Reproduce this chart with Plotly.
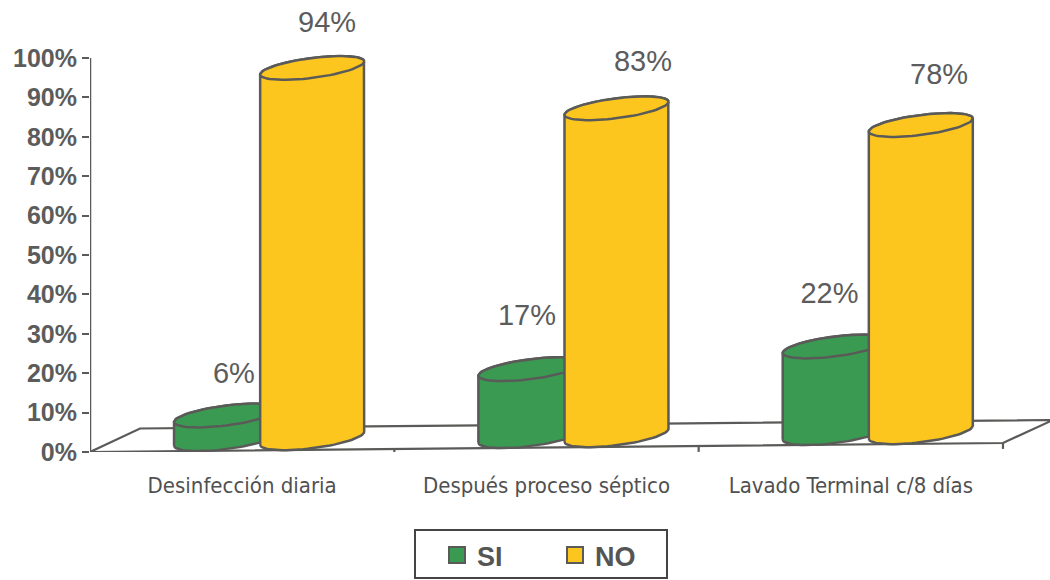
import numpy as np
import plotly.graph_objects as go

categories = ["Desinfección diaria", "Después proceso séptico", "Lavado Terminal c/8 días"]
si_values = [6, 17, 22]
no_values = [94, 83, 78]
y_ticks = list(range(0, 101, 10))

GREEN, YELLOW, EDGE, TEXT = "#3b9a52", "#fdc61f", "#5a5a58", "#5c5c5c"
PX_X, PX_Y = 304.33, 3.94               # pixels per axis unit
HALF_W = 52 / PX_X                      # cylinder half width
TILT = 0.125                            # ellipse tilt
HALF_H = 10 / PX_Y                      # ellipse half height
FLOOR_SLOPE = 0.762                     # scan tilt of the floor, % per category
FLOOR_MID = 2.92
DEPTH_X, DEPTH_Y = 50 / PX_X, 23 / PX_Y

t = np.linspace(0, 2 * np.pi, 73)


def ellipse(cx, cy, tt):
    x = cx + HALF_W * np.cos(tt)
    y = cy + HALF_W * PX_X * TILT / PX_Y * np.cos(tt) + HALF_H * np.sin(tt)
    return x, y


def cylinder(cx, value):
    base = FLOOR_MID + FLOOR_SLOPE * cx
    top = base + value
    bx, by = ellipse(cx, base, np.linspace(np.pi, 2 * np.pi, 37))
    tx, ty = ellipse(cx, top, np.linspace(0, np.pi, 37))
    cap_x, cap_y = ellipse(cx, top, t)
    return (np.r_[bx, tx, bx[0]], np.r_[by, ty, by[0]], cap_x, cap_y)


fig = go.Figure()

# floor and axis lines
n = len(categories)
floor_x = [0, n, n + DEPTH_X, DEPTH_X, 0]
floor_y = [0, FLOOR_SLOPE * n, FLOOR_SLOPE * n + DEPTH_Y, DEPTH_Y + FLOOR_SLOPE * DEPTH_X, 0]
fig.add_trace(go.Scatter(x=floor_x, y=floor_y, mode="lines", line=dict(color=EDGE, width=2.2),
                         showlegend=False, hoverinfo="skip", cliponaxis=False))
fig.add_trace(go.Scatter(x=[0, 0], y=[0, 100], mode="lines", line=dict(color=EDGE, width=2.5),
                         showlegend=False, hoverinfo="skip", cliponaxis=False))
tick_x, tick_y = [], []
for i in range(1, n + 1):
    tick_x += [i, i, None]
    tick_y += [FLOOR_SLOPE * i, FLOOR_SLOPE * i - 1.5, None]
fig.add_trace(go.Scatter(x=tick_x, y=tick_y, mode="lines", line=dict(color=EDGE, width=2.2),
                         showlegend=False, hoverinfo="skip", cliponaxis=False))

for name, vals, color, offset in [("SI", si_values, GREEN, 0.447), ("NO", no_values, YELLOW, 0.73)]:
    for i, v in enumerate(vals):
        cx = i + offset
        bx, by, capx, capy = cylinder(cx, v)
        fig.add_trace(go.Scatter(x=bx, y=by, mode="lines", fill="toself", fillcolor=color,
                                 line=dict(color=EDGE, width=2.5), name=name,
                                 showlegend=False, cliponaxis=False, hoverinfo="skip"))
        fig.add_trace(go.Scatter(x=capx, y=capy, mode="lines", fill="toself", fillcolor=color,
                                 line=dict(color=EDGE, width=2.5), showlegend=False,
                                 cliponaxis=False, hoverinfo="skip"))

# value labels
label_x = {"SI": [0.473, 1.436, 2.43], "NO": [0.779, 1.817, 2.79]}
label_gap = {"SI": [10, 13, 13], "NO": [10.9, 11.2, 12.15]}
for name, vals in [("SI", si_values), ("NO", no_values)]:
    ly = [v + FLOOR_MID + FLOOR_SLOPE * x + g for v, x, g in zip(vals, label_x[name], label_gap[name])]
    fig.add_trace(go.Scatter(x=label_x[name], y=ly, mode="text",
                             text=[f"{v}%" for v in vals], textposition="middle center",
                             textfont=dict(family="Liberation Sans", size=29, color=TEXT),
                             showlegend=False, cliponaxis=False, hoverinfo="skip"))

# legend entries
for name, color in [("SI", GREEN), ("NO", YELLOW)]:
    fig.add_trace(go.Scatter(x=[None], y=[None], mode="markers", name=name,
                             marker=dict(symbol="square", size=22, color=color,
                                         line=dict(color=EDGE, width=2))))

fig.update_layout(
    width=1050, height=580,
    margin=dict(l=90, r=0, t=0, b=128),
    paper_bgcolor="white", plot_bgcolor="rgba(0,0,0,0)",
    xaxis=dict(range=[0, 960 / PX_X], tickvals=[i + 0.5 for i in range(n)], ticktext=categories,
               showgrid=False, zeroline=False, showline=False, ticks="", ticklabelstandoff=18,
               tickfont=dict(family="Liberation Sans Narrow, DejaVu Sans Condensed", size=22, color="#505050")),
    yaxis=dict(range=[0, 452 / PX_Y], tickvals=y_ticks, ticktext=[f"{v}%" for v in y_ticks],
               showgrid=False, zeroline=False, showline=False, ticks="outside", ticklen=7,
               tickwidth=2.2, tickcolor=EDGE,
               tickfont=dict(family="Liberation Sans", size=25, color=TEXT, weight="bold")),
    legend=dict(orientation="h", xref="container", yref="container", x=437 / 1050, y=1 - 531 / 580,
                xanchor="left", yanchor="top", bgcolor="rgba(0,0,0,0)", entrywidth=73,
                font=dict(family="Liberation Sans", size=27, color="#555555", weight="bold")),
    shapes=[dict(type="rect", xref="paper", yref="paper",
                 x0=(415 - 90) / 960, x1=(667 - 90) / 960,
                 y0=(452 - 578) / 452, y1=(452 - 530) / 452,
                 line=dict(color="#444444", width=2))],
)

fig.write_html("out.html", post_script="document.body.style.margin='0';",
               config={"displayModeBar": False})
